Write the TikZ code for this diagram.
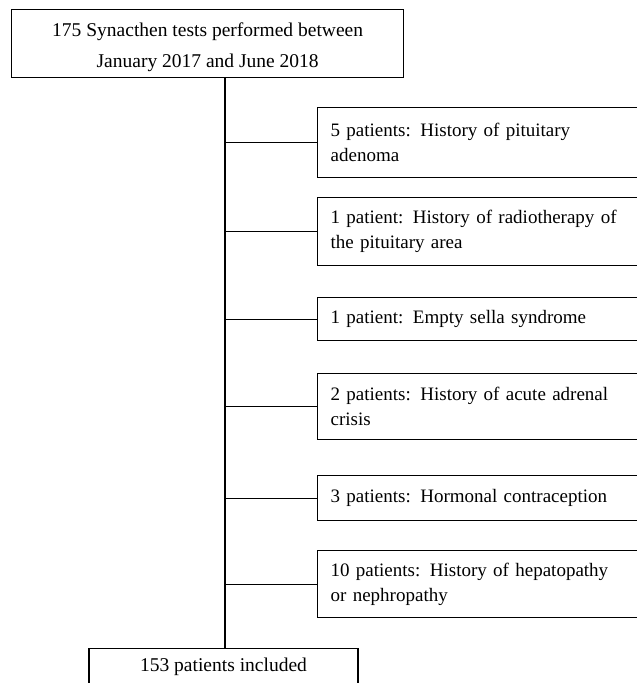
\documentclass[tikz,border=0pt]{standalone}
\usepackage{fontspec}
\setmainfont{Liberation Serif}
\begin{document}
\begin{tikzpicture}[x=1pt,y=-1pt,line width=1.3pt,
  topbox/.style={draw, inner sep=0pt, anchor=north west, align=center,
    font=\fontsize{19.5}{31.5}\selectfont},
  sidebox/.style={draw, inner xsep=13pt, inner ysep=0pt, anchor=north west,
    text width=304pt, align=left, font=\fontsize{19}{25}\selectfont},
  botbox/.style={draw, inner sep=0pt, anchor=north, minimum width=269pt,
    minimum height=37pt, font=\fontsize{19.5}{24}\selectfont},
  link/.style={draw, line width=1.3pt}]
\useasboundingbox (0,0) rectangle (637,683);
\clip (0,0) rectangle (637,683);
\node[topbox, minimum width=392pt, minimum height=68pt] (top) at (11,9)
  {\rule{0pt}{21pt}175 Synacthen tests performed between\\January 2017 and June 2018};
\node[sidebox, minimum height=70pt] (b1) at (317,107)
  {5 patients: History of pituitary\\adenoma};
\node[sidebox, minimum height=68pt] (b2) at (317,197)
  {1 patient: History of radiotherapy of\\the pituitary area};
\node[sidebox, minimum height=43pt] (b3) at (317,297)
  {1 patient: Empty sella syndrome};
\node[sidebox, minimum height=66pt] (b4) at (317,373)
  {2 patients: History of acute adrenal\\crisis};
\node[sidebox, minimum height=45pt] (b5) at (317,475)
  {3 patients: Hormonal contraception};
\node[sidebox, minimum height=67pt] (b6) at (317,550)
  {10 patients: History of hepatopathy\\or nephropathy};
\node[botbox] (bot) at (223.5,648) {153 patients included};
\coordinate (spine) at (225,0);
\draw[link] (top.south -| spine) -- (bot.north -| spine);
\foreach \b in {b1,b2,b3,b4,b5,b6}
  \draw[link] (\b.west -| spine) -- (\b.west);
\end{tikzpicture}
\end{document}
